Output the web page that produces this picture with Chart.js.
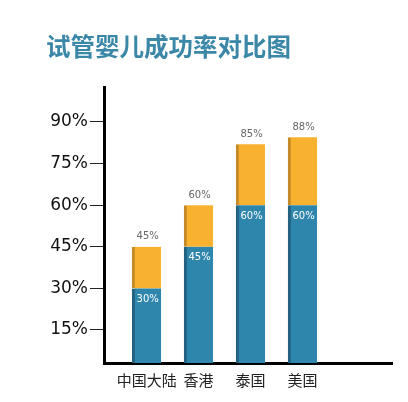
<!DOCTYPE html>
<html>
<head>
<meta charset="utf-8">
<script src="https://cdn.jsdelivr.net/npm/chart.js@4"></script>
<style>
  html, body { margin: 0; padding: 0; background: #fff; }
  #wrap { position: relative; width: 408px; height: 402px; }
  #title {
    position: absolute; left: 46px; top: 28px; margin: 0;
    font: 600 24.5px 'Noto Sans CJK SC', sans-serif; color: #3b87a8;
    white-space: nowrap;
  }
</style>
</head>
<body>
<div id="wrap">
  <h1 id="title">试管婴儿成功率对比图</h1>
  <canvas id="chart" width="408" height="402"></canvas>
</div>
<script>
'use strict';

/* ── Data ─────────────────────────────────── */
const categories  = ['中国大陆', '香港', '泰国', '美国'];
const baseValues  = [30, 45, 60, 60];          // blue part
const totalValues = [45, 60, 82, 84.5];        // bar top as drawn
const baseLabels  = ['30%', '45%', '60%', '60%'];
const totalLabels = ['45%', '60%', '85%', '88%'];
const yTicks      = [15, 30, 45, 60, 75, 90];

const topValues = totalValues.map((t, i) => t - baseValues[i]);

/* ── Colours ──────────────────────────────── */
const BLUE = '#2f86ad', BLUE_DARK = '#22617f';
const GOLD = '#f8b230', GOLD_DARK = '#c48a2a';

/* ── Bar value labels ─────────────────────── */
const valueLabels = {
  id: 'valueLabels',
  afterDatasetsDraw(chart) {
    const ctx = chart.ctx;
    const base = chart.getDatasetMeta(0).data;
    const top  = chart.getDatasetMeta(1).data;
    ctx.save();
    ctx.font = "10px 'DejaVu Sans', sans-serif";
    ctx.textAlign = 'center';
    ctx.textBaseline = 'middle';
    base.forEach((bar, i) => {
      ctx.fillStyle = '#ffffff';
      ctx.fillText(baseLabels[i], bar.x + 1, bar.y + 11);
      ctx.fillStyle = '#666666';
      ctx.fillText(totalLabels[i], top[i].x + 1, top[i].y - 10);
    });
    ctx.restore();
  }
};

new Chart(document.getElementById('chart').getContext('2d'), {
  type: 'bar',
  data: {
    datasets: [
      {
        data: baseValues.map((v, i) => ({ x: i, y: v })),
        backgroundColor: BLUE,
        borderColor: BLUE_DARK,
        borderWidth: { left: 3, right: 0, top: 0, bottom: 0 },
        borderSkipped: false,
        barThickness: 29,
      },
      {
        data: topValues.map((v, i) => ({ x: i, y: v })),
        backgroundColor: GOLD,
        borderColor: GOLD_DARK,
        borderWidth: { left: 3, right: 0, top: 0, bottom: 0 },
        borderSkipped: false,
        barThickness: 29,
      },
    ],
  },
  options: {
    responsive: false,
    animation: false,
    layout: { padding: { left: 0, right: 16, top: 87, bottom: 0 } },
    plugins: { legend: { display: false }, tooltip: { enabled: false } },
    scales: {
      x: {
        type: 'linear',
        stacked: true,
        offset: false,
        min: -0.82,
        max: 4.72,
        afterBuildTicks: axis => { axis.ticks = categories.map((c, i) => ({ value: i })); },
        afterFit: axis => { axis.height = 39; },
        grid: { offset: false, drawOnChartArea: false, drawTicks: false },
        border: { display: true, color: '#000', width: 3 },
        ticks: {
          padding: 8,
          color: '#222',
          font: { family: "'Noto Sans CJK SC', sans-serif", size: 15 },
          callback: v => categories[v] ?? '',
        },
      },
      y: {
        stacked: true,
        min: 3.1,
        max: 102.6,
        afterBuildTicks: axis => { axis.ticks = yTicks.map(v => ({ value: v })); },
        afterFit: axis => { axis.width = 104; },
        grid: { drawOnChartArea: false, drawTicks: true, tickLength: 14, tickColor: '#222', tickWidth: 1 },
        border: { display: true, color: '#000', width: 3 },
        ticks: {
          padding: 2,
          color: '#111',
          font: { family: "'DejaVu Sans', sans-serif", size: 17 },
          callback: v => v + '%',
        },
      },
    },
  },
  plugins: [valueLabels],
});
</script>
</body>
</html>
